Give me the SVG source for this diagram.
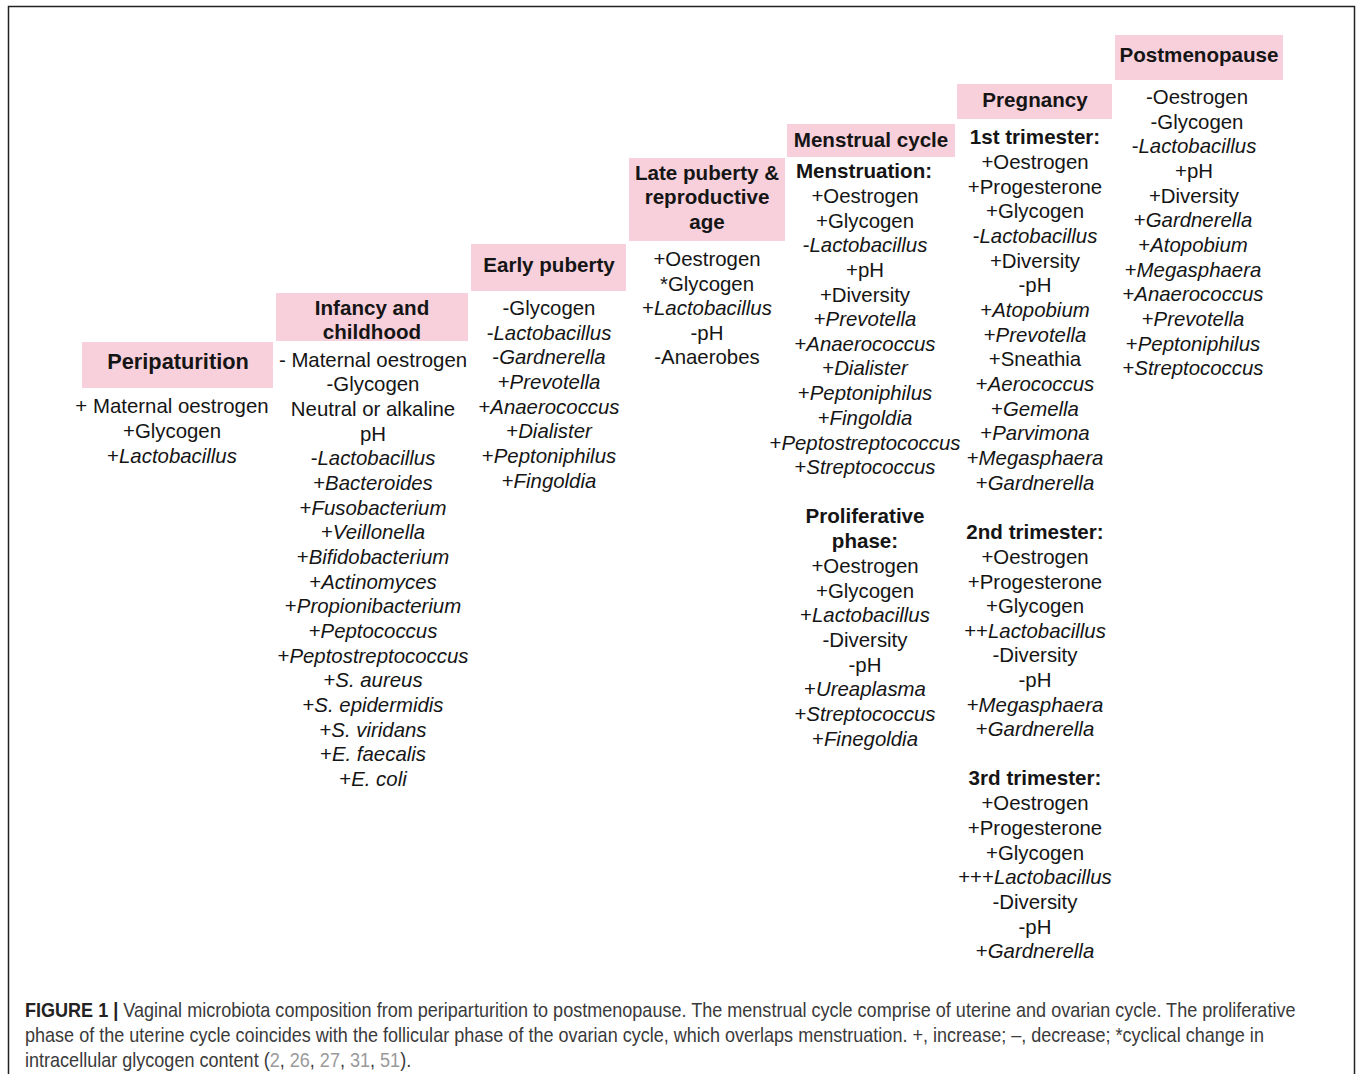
<svg xmlns="http://www.w3.org/2000/svg" width="1358" height="1074" viewBox="0 0 1358 1074">
<style>
.hb{fill:#f7d0dc}
text{font-family:"Liberation Sans",Arial,sans-serif;font-size:20.4px;fill:#151515;text-anchor:middle}
.h{font-weight:bold;font-size:20.6px}
.i{font-style:italic}
.cap{font-family:"Liberation Sans",sans-serif;font-size:20.5px;fill:#3a3a3a;text-anchor:start}
.cb{font-weight:bold;fill:#222}
.ref{fill:#9a9a9a}
</style>
<rect width="1358" height="1074" fill="#fff"/>
<path d="M8.5,1074 V6.5 H1354.5 V1074" fill="none" stroke="#222" stroke-width="1.5"/>

<g id="peripaturition">
<rect class="hb" x="82" y="342" width="191" height="46"/>
<text class="h" x="178" y="369" style="font-size:21.8px">Peripaturition</text>
<text x="172" y="413">+ Maternal oestrogen</text>
<text x="172" y="438">+Glycogen</text>
<text x="172" y="463">+<tspan class="i">Lactobacillus</tspan></text>
</g>

<g id="infancy">
<rect class="hb" x="276" y="293" width="192" height="48"/>
<text class="h" x="372" y="315">Infancy and</text>
<text class="h" x="372" y="339">childhood</text>
<text x="373" y="367">- Maternal oestrogen</text>
<text x="373" y="391">-Glycogen</text>
<text x="373" y="416">Neutral or alkaline</text>
<text x="373" y="441">pH</text>
<text x="373" y="465">-<tspan class="i">Lactobacillus</tspan></text>
<text x="373" y="490">+<tspan class="i">Bacteroides</tspan></text>
<text x="373" y="515">+<tspan class="i">Fusobacterium</tspan></text>
<text x="373" y="539">+<tspan class="i">Veillonella</tspan></text>
<text x="373" y="564">+<tspan class="i">Bifidobacterium</tspan></text>
<text x="373" y="589">+<tspan class="i">Actinomyces</tspan></text>
<text x="373" y="613">+<tspan class="i">Propionibacterium</tspan></text>
<text x="373" y="638">+<tspan class="i">Peptococcus</tspan></text>
<text x="373" y="663">+<tspan class="i">Peptostreptococcus</tspan></text>
<text x="373" y="687">+<tspan class="i">S. aureus</tspan></text>
<text x="373" y="712">+<tspan class="i">S. epidermidis</tspan></text>
<text x="373" y="737">+<tspan class="i">S. viridans</tspan></text>
<text x="373" y="761">+<tspan class="i">E. faecalis</tspan></text>
<text x="373" y="786">+<tspan class="i">E. coli</tspan></text>
</g>

<g id="early-puberty">
<rect class="hb" x="471" y="244" width="155" height="47"/>
<text class="h" x="549" y="272">Early puberty</text>
<text x="549" y="315">-Glycogen</text>
<text x="549" y="340">-<tspan class="i">Lactobacillus</tspan></text>
<text x="549" y="364">-<tspan class="i">Gardnerella</tspan></text>
<text x="549" y="389">+<tspan class="i">Prevotella</tspan></text>
<text x="549" y="414">+<tspan class="i">Anaerococcus</tspan></text>
<text x="549" y="438">+<tspan class="i">Dialister</tspan></text>
<text x="549" y="463">+<tspan class="i">Peptoniphilus</tspan></text>
<text x="549" y="488">+<tspan class="i">Fingoldia</tspan></text>
</g>

<g id="late-puberty">
<rect class="hb" x="629" y="158" width="156" height="83"/>
<text class="h" x="707" y="180">Late puberty &amp;</text>
<text class="h" x="707" y="204">reproductive</text>
<text class="h" x="707" y="229">age</text>
<text x="707" y="266">+Oestrogen</text>
<text x="707" y="291">*Glycogen</text>
<text x="707" y="315">+<tspan class="i">Lactobacillus</tspan></text>
<text x="707" y="340">-pH</text>
<text x="707" y="364">-Anaerobes</text>
</g>

<g id="menstrual-cycle">
<rect class="hb" x="787" y="124" width="168" height="33"/>
<text class="h" x="871" y="147">Menstrual cycle</text>
<text class="h" x="864" y="178">Menstruation:</text>
<text x="865" y="203">+Oestrogen</text>
<text x="865" y="228">+Glycogen</text>
<text x="865" y="252">-<tspan class="i">Lactobacillus</tspan></text>
<text x="865" y="277">+pH</text>
<text x="865" y="302">+Diversity</text>
<text x="865" y="326">+<tspan class="i">Prevotella</tspan></text>
<text x="865" y="351">+<tspan class="i">Anaerococcus</tspan></text>
<text x="865" y="375">+<tspan class="i">Dialister</tspan></text>
<text x="865" y="400">+<tspan class="i">Peptoniphilus</tspan></text>
<text x="865" y="425">+<tspan class="i">Fingoldia</tspan></text>
<text x="865" y="450">+<tspan class="i">Peptostreptococcus</tspan></text>
<text x="865" y="474">+<tspan class="i">Streptococcus</tspan></text>
<text class="h" x="865" y="523">Proliferative</text>
<text class="h" x="865" y="548">phase:</text>
<text x="865" y="573">+Oestrogen</text>
<text x="865" y="598">+Glycogen</text>
<text x="865" y="622">+<tspan class="i">Lactobacillus</tspan></text>
<text x="865" y="647">-Diversity</text>
<text x="865" y="672">-pH</text>
<text x="865" y="696">+<tspan class="i">Ureaplasma</tspan></text>
<text x="865" y="721">+<tspan class="i">Streptococcus</tspan></text>
<text x="865" y="746">+<tspan class="i">Finegoldia</tspan></text>
</g>

<g id="pregnancy">
<rect class="hb" x="957" y="84" width="155" height="35"/>
<text class="h" x="1035" y="107">Pregnancy</text>
<text class="h" x="1035" y="144">1st trimester:</text>
<text x="1035" y="169">+Oestrogen</text>
<text x="1035" y="194">+Progesterone</text>
<text x="1035" y="218">+Glycogen</text>
<text x="1035" y="243">-<tspan class="i">Lactobacillus</tspan></text>
<text x="1035" y="268">+Diversity</text>
<text x="1035" y="292">-pH</text>
<text x="1035" y="317">+<tspan class="i">Atopobium</tspan></text>
<text x="1035" y="342">+<tspan class="i">Prevotella</tspan></text>
<text x="1035" y="366">+Sneathia</text>
<text x="1035" y="391">+<tspan class="i">Aerococcus</tspan></text>
<text x="1035" y="416">+<tspan class="i">Gemella</tspan></text>
<text x="1035" y="440">+<tspan class="i">Parvimona</tspan></text>
<text x="1035" y="465">+<tspan class="i">Megasphaera</tspan></text>
<text x="1035" y="490">+<tspan class="i">Gardnerella</tspan></text>
<text class="h" x="1035" y="539">2nd trimester:</text>
<text x="1035" y="564">+Oestrogen</text>
<text x="1035" y="589">+Progesterone</text>
<text x="1035" y="613">+Glycogen</text>
<text x="1035" y="638">++<tspan class="i">Lactobacillus</tspan></text>
<text x="1035" y="662">-Diversity</text>
<text x="1035" y="687">-pH</text>
<text x="1035" y="712">+<tspan class="i">Megasphaera</tspan></text>
<text x="1035" y="736">+<tspan class="i">Gardnerella</tspan></text>
<text class="h" x="1035" y="785">3rd trimester:</text>
<text x="1035" y="810">+Oestrogen</text>
<text x="1035" y="835">+Progesterone</text>
<text x="1035" y="860">+Glycogen</text>
<text x="1035" y="884">+++<tspan class="i">Lactobacillus</tspan></text>
<text x="1035" y="909">-Diversity</text>
<text x="1035" y="934">-pH</text>
<text x="1035" y="958">+<tspan class="i">Gardnerella</tspan></text>
</g>

<g id="postmenopause">
<rect class="hb" x="1115" y="35" width="168" height="45"/>
<text class="h" x="1199" y="62">Postmenopause</text>
<text x="1197" y="104">-Oestrogen</text>
<text x="1197" y="129">-Glycogen</text>
<text x="1194" y="153">-<tspan class="i">Lactobacillus</tspan></text>
<text x="1194" y="178">+pH</text>
<text x="1194" y="203">+Diversity</text>
<text x="1193" y="227">+<tspan class="i">Gardnerella</tspan></text>
<text x="1193" y="252">+<tspan class="i">Atopobium</tspan></text>
<text x="1193" y="277">+<tspan class="i">Megasphaera</tspan></text>
<text x="1193" y="301">+<tspan class="i">Anaerococcus</tspan></text>
<text x="1193" y="326">+<tspan class="i">Prevotella</tspan></text>
<text x="1193" y="351">+<tspan class="i">Peptoniphilus</tspan></text>
<text x="1193" y="375">+<tspan class="i">Streptococcus</tspan></text>
</g>

<g id="caption" transform="translate(25,0) scale(0.881,1)">
<text class="cap" x="0" y="1017"><tspan class="cb">FIGURE 1 |</tspan> Vaginal microbiota composition from periparturition to postmenopause. The menstrual cycle comprise of uterine and ovarian cycle. The proliferative</text>
<text class="cap" x="0" y="1042">phase of the uterine cycle coincides with the follicular phase of the ovarian cycle, which overlaps menstruation. +, increase; –, decrease; *cyclical change in</text>
<text class="cap" x="0" y="1067">intracellular glycogen content (<tspan class="ref">2</tspan>, <tspan class="ref">26</tspan>, <tspan class="ref">27</tspan>, <tspan class="ref">31</tspan>, <tspan class="ref">51</tspan>).</text>
</g>
</svg>
